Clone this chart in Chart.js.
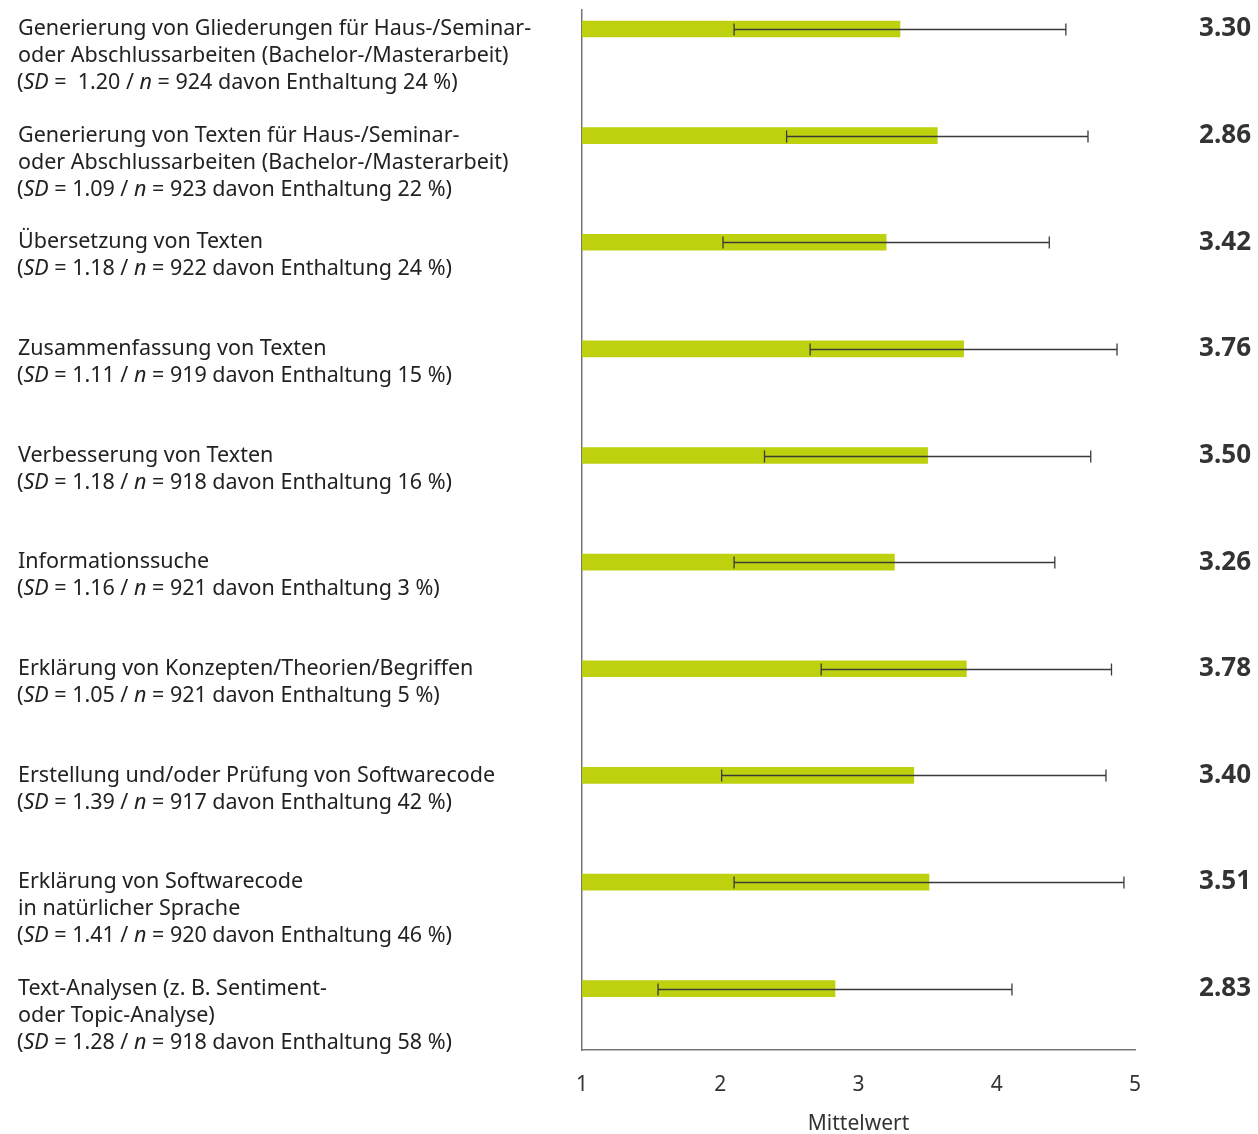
<!DOCTYPE html>
<html>
<head>
<meta charset="utf-8">
<script src="https://cdn.jsdelivr.net/npm/chart.js@4/dist/chart.umd.min.js"></script>
<style>
  html, body { margin: 0; padding: 0; background: #fff; }
  #wrap { width: 1258px; height: 1134px; position: relative; }
</style>
</head>
<body>
<div id="wrap"><canvas id="c" width="1258" height="1134"></canvas></div>
<script>
// ---- data ----
const categories = [
  ["Generierung von Gliederungen für Haus-/Seminar-", "oder Abschlussarbeiten (Bachelor-/Masterarbeit)"],
  ["Generierung von Texten für Haus-/Seminar-", "oder Abschlussarbeiten (Bachelor-/Masterarbeit)"],
  ["Übersetzung von Texten"],
  ["Zusammenfassung von Texten"],
  ["Verbesserung von Texten"],
  ["Informationssuche"],
  ["Erklärung von Konzepten/Theorien/Begriffen"],
  ["Erstellung und/oder Prüfung von Softwarecode"],
  ["Erklärung von Softwarecode", "in natürlicher Sprache"],
  ["Text-Analysen (z. B. Sentiment-", "oder Topic-Analyse)"]
];
const sdText = [" 1.20", "1.09", "1.18", "1.11", "1.18", "1.16", "1.05", "1.39", "1.41", "1.28"];
const sdValues = [1.20, 1.09, 1.18, 1.11, 1.18, 1.16, 1.05, 1.39, 1.41, 1.28];
const nValues = [924, 923, 922, 919, 918, 921, 921, 917, 920, 918];
const abstention = [24, 22, 24, 15, 16, 3, 5, 42, 46, 58];
const barMeans = [3.30, 3.57, 3.20, 3.76, 3.50, 3.26, 3.78, 3.40, 3.51, 2.83];
const meanLabels = ["3.30", "2.86", "3.42", "3.76", "3.50", "3.26", "3.78", "3.40", "3.51", "2.83"];
const xTicks = [1, 2, 3, 4, 5];
const xTitle = "Mittelwert";

const FONT = "'Noto Sans', 'DejaVu Sans', sans-serif";
const FS = 21.5;

const points = barMeans.map((m, i) => ({ x: m, y: i }));

const errorBarPlugin = {
  id: 'errorBars',
  afterDatasetsDraw(chart) {
    const { ctx, scales: { x, y } } = chart;
    ctx.save();
    ctx.strokeStyle = '#3a3a3a';
    ctx.lineWidth = 1.3;
    barMeans.forEach((m, i) => {
      const yp = Math.round(y.getPixelForValue(i)) + 0.5;
      const x1 = x.getPixelForValue(m - sdValues[i]);
      const x2 = x.getPixelForValue(m + sdValues[i]);
      ctx.beginPath();
      ctx.moveTo(x1, yp); ctx.lineTo(x2, yp);
      ctx.moveTo(x1, yp - 6); ctx.lineTo(x1, yp + 6);
      ctx.moveTo(x2, yp - 6); ctx.lineTo(x2, yp + 6);
      ctx.stroke();
    });
    ctx.restore();
  }
};

const labelPlugin = {
  id: 'sideLabels',
  afterDraw(chart) {
    const { ctx, scales: { y } } = chart;
    ctx.save();
    ctx.textBaseline = 'middle';
    const lh = 27;
    const normal = FS + "px " + FONT;
    const italic = "italic " + FS + "px " + FONT;
    categories.forEach((lines, i) => {
      const y0 = y.getPixelForValue(i);
      ctx.fillStyle = '#222';
      ctx.textAlign = 'left';
      ctx.font = normal;
      lines.forEach((ln, k) => ctx.fillText(ln, 18, y0 + k * lh));
      const yy = y0 + lines.length * lh;
      const segs = [
        ["(", normal], ["SD", italic], [" = " + sdText[i] + " / ", normal],
        ["n", italic], [" = " + nValues[i] + " davon Enthaltung " + abstention[i] + " %)", normal]
      ];
      let xx = 17;
      segs.forEach(([t, f]) => {
        ctx.font = f;
        ctx.fillText(t, xx, yy);
        xx += ctx.measureText(t).width;
      });
      // mean value labels at right
      ctx.font = "bold 26px " + FONT;
      ctx.fillStyle = '#333';
      ctx.textAlign = 'right';
      ctx.fillText(meanLabels[i], 1251, y0);
    });
    ctx.restore();
  }
};

new Chart(document.getElementById('c'), {
  type: 'bar',
  data: {
    datasets: [{
      data: points,
      backgroundColor: '#bdd10e',
      borderWidth: 0,
      barThickness: 16
    }]
  },
  options: {
    indexAxis: 'y',
    responsive: false,
    animation: false,
    layout: { padding: { left: 582, right: 1258 - 1135, top: 10, bottom: 0 } },
    plugins: { legend: { display: false }, tooltip: { enabled: false } },
    scales: {
      x: {
        type: 'linear',
        min: 1, max: 5,
        afterFit(s) { s.height = 84; },
        afterBuildTicks(s) { s.ticks = xTicks.map(v => ({ value: v })); },
        grid: { display: false, drawTicks: false },
        border: { display: true, color: '#777', width: 1.5 },
        ticks: { padding: 22, color: '#333', font: { family: FONT, size: 21 } },
        title: { display: true, text: xTitle, color: '#333', font: { family: FONT, size: 21 }, padding: { top: 0, bottom: -3 } }
      },
      y: {
        type: 'linear',
        reverse: true,
        offset: false,
        min: -0.178, max: 9.575,
        afterFit(s) { s.width = 0; },
        grid: { display: false, drawTicks: false, offset: false },
        border: { display: true, color: '#777', width: 1.5 },
        ticks: { display: false }
      }
    }
  },
  plugins: [errorBarPlugin, labelPlugin]
});
</script>
</body>
</html>
